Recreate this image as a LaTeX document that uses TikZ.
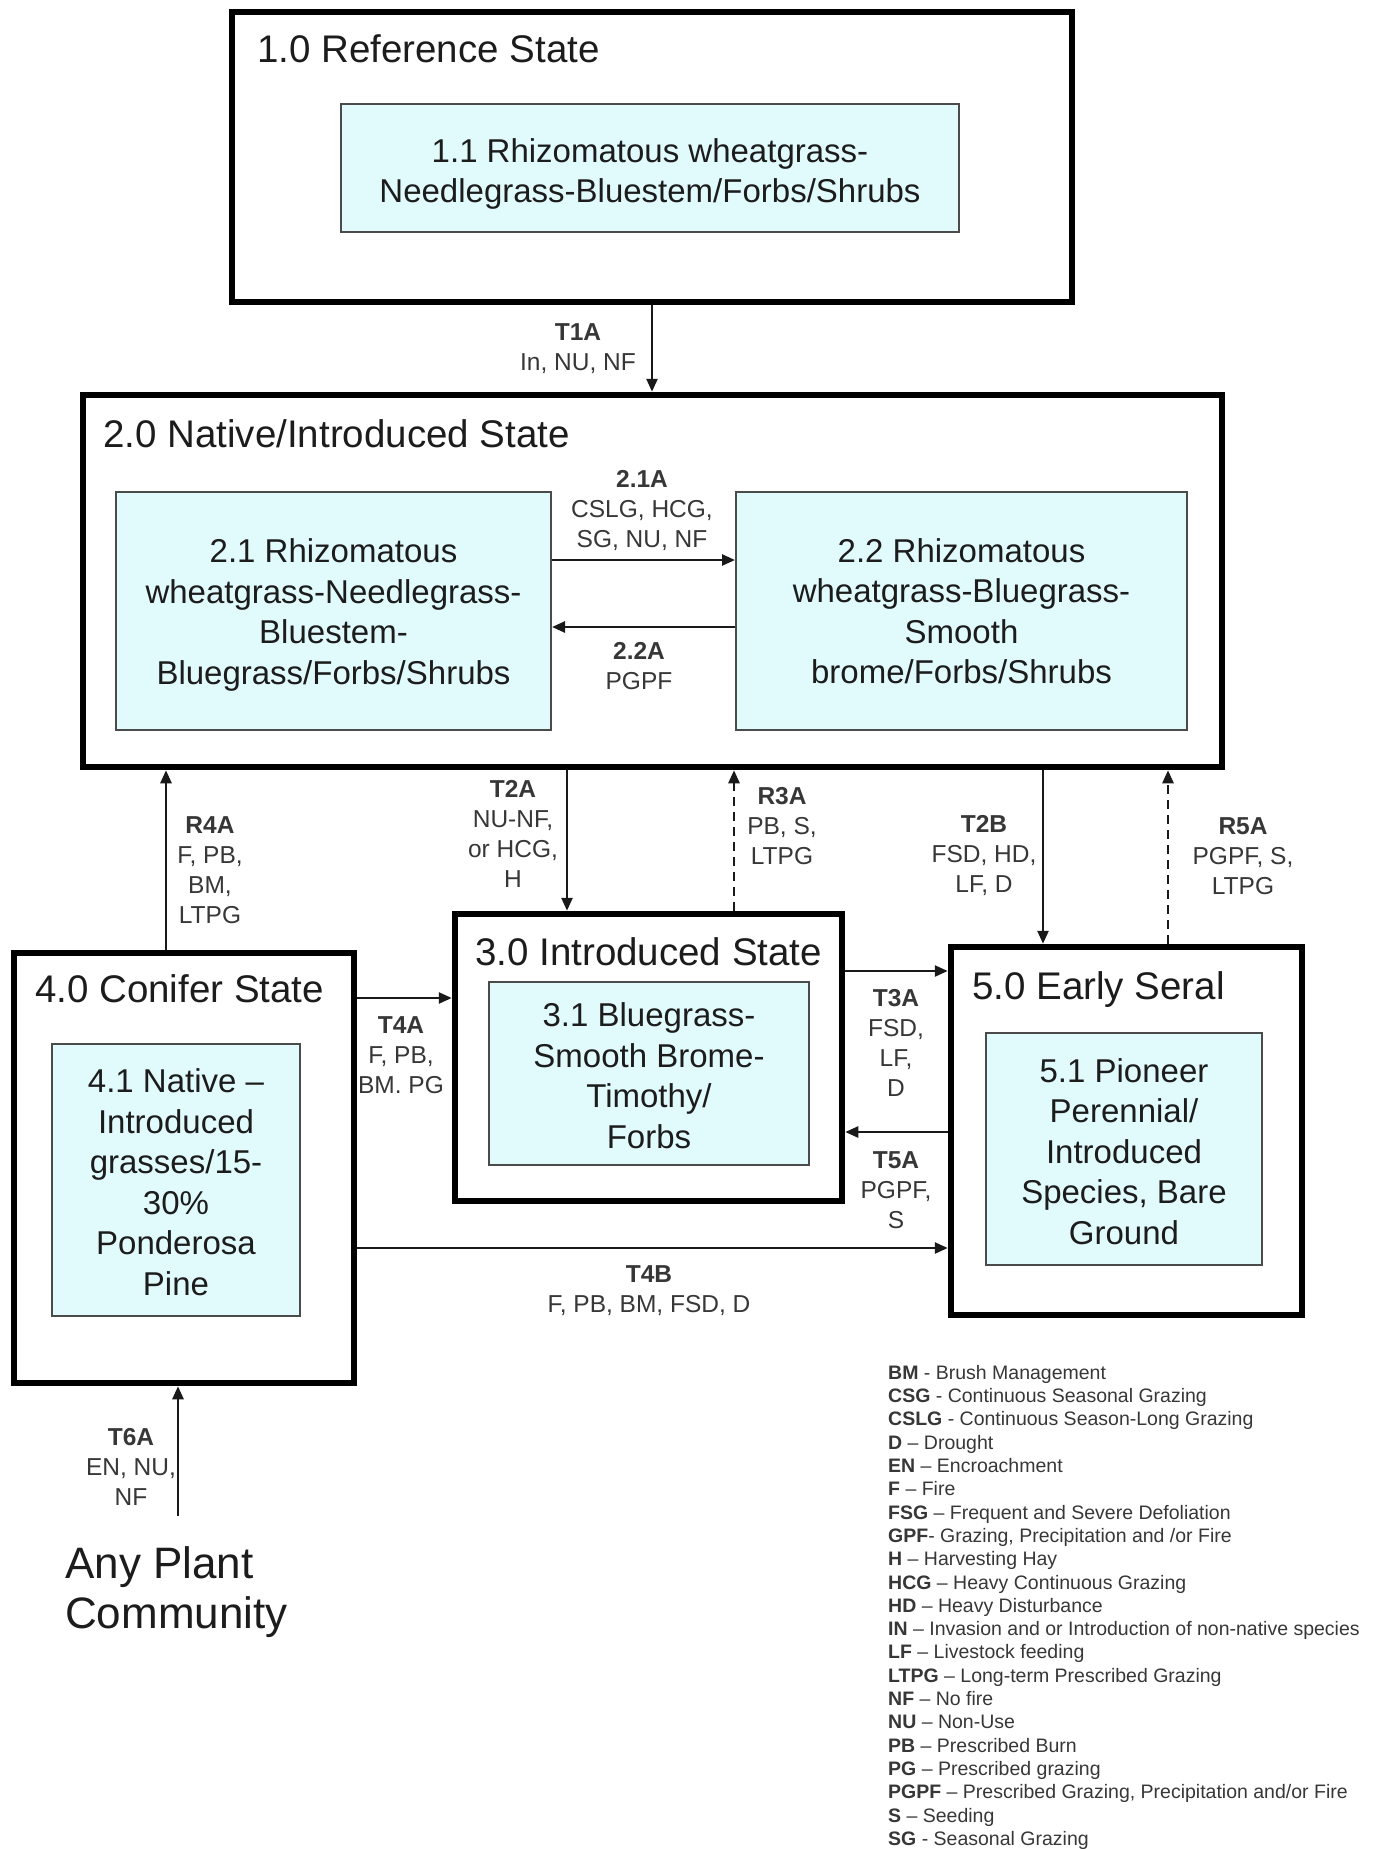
\documentclass[tikz,border=0pt]{standalone}
\usepackage{fontspec}
\setmainfont{Liberation Sans}
\usetikzlibrary{arrows.meta}
\definecolor{innerfill}{RGB}{225,250,252}
\definecolor{innerline}{RGB}{75,75,75}
\definecolor{txt}{RGB}{28,28,28}
\definecolor{lbl}{RGB}{55,55,55}
\newcommand{\myTitleFont}{\fontsize{38.5}{46}\selectfont}
\newcommand{\myBoxFont}{\fontsize{33}{40.5}\selectfont}
\newcommand{\myLblFont}{\fontsize{24.5}{30}\selectfont}
\newcommand{\myLegFont}{\fontsize{19.5}{23.3}\selectfont}
\newcommand{\myBigFont}{\fontsize{44}{50}\selectfont}
\begin{document}
\begin{tikzpicture}[x=1pt,y=-1pt,
  statebox/.style={draw=black, line width=6.5pt, fill=white, inner sep=0pt},
  innerbox/.style={draw=innerline, line width=2pt, fill=innerfill, align=center, text=txt, font=\myBoxFont, inner sep=0pt},
  statetitle/.style={anchor=base west, inner sep=0pt, text=txt, font=\myTitleFont},
  lbl/.style={align=center, inner sep=0pt, text=lbl, font=\myLblFont},
  arr/.style={line width=2.5pt, draw=black!90, -{Triangle[length=13pt,width=11pt]}},
  dasharr/.style={arr, dash pattern=on 9pt off 6pt}
]
\useasboundingbox[fill=white] (0,0) rectangle (1374,1849);

% state boxes
\node[statebox, minimum width=840pt, minimum height=290pt] (b1) at (652,157) {};
\node[statebox, minimum width=1139pt, minimum height=372pt] (b2) at (652.5,581) {};
\node[statebox, minimum width=387pt, minimum height=287pt] (b3) at (648.5,1057.5) {};
\node[statebox, minimum width=340pt, minimum height=430pt] (b4) at (184,1168) {};
\node[statebox, minimum width=351pt, minimum height=368pt] (b5) at (1126.5,1131) {};

% titles
\node[statetitle] (t1) at (257,63) {1.0 Reference State};
\node[statetitle] (t2) at (103,447) {2.0 Native/Introduced State};
\node[statetitle] (t3) at (475,965) {3.0 Introduced State};
\node[statetitle] (t4) at (35,1002) {4.0 Conifer State};
\node[statetitle] (t5) at (972,999) {5.0 Early Seral};

% community boxes
\node[innerbox, minimum width=618pt, minimum height=128pt] (b11) at (650,168)
  {\rule{0pt}{36pt}1.1 Rhizomatous wheatgrass-\\Needlegrass-Bluestem/Forbs/Shrubs};
\node[innerbox, minimum width=435pt, minimum height=238pt] (b21) at (333.5,611)
  {\rule{0pt}{32pt}2.1 Rhizomatous\\wheatgrass-Needlegrass-\\Bluestem-\\Bluegrass/Forbs/Shrubs};
\node[innerbox, minimum width=451pt, minimum height=238pt] (b22) at (961.5,611)
  {2.2 Rhizomatous\\wheatgrass-Bluegrass-\\Smooth\\brome/Forbs/Shrubs};
\node[innerbox, minimum width=320pt, minimum height=183pt] (b31) at (649,1073.5)
  {\rule{0pt}{28pt}3.1 Bluegrass-\\Smooth Brome-\\Timothy/\\Forbs};
\node[innerbox, minimum width=248pt, minimum height=272pt] (b41) at (176,1180)
  {\rule{0pt}{28pt}4.1 Native --\\Introduced\\grasses/15-\\30\%\\Ponderosa\\Pine};
\node[innerbox, minimum width=276pt, minimum height=232pt] (b51) at (1124,1149)
  {\rule{0pt}{29pt}5.1 Pioneer\\Perennial/\\Introduced\\Species, Bare\\Ground};

% connectors
\draw[arr] (b1.south -| 652,0) -- (b2.north -| 652,0);
\draw[arr] (b21.east |- 0,560) -- (b22.west |- 0,560);
\draw[arr] (b22.west |- 0,627) -- (b21.east |- 0,627);
\draw[arr] (b2.south -| 567,0) -- (b3.north -| 567,0);
\draw[dasharr] (b3.north -| 734,0) -- (b2.south -| 734,0);
\draw[arr] (b2.south -| 1043,0) -- (b5.north -| 1043,0);
\draw[dasharr] (b5.north -| 1168,0) -- (b2.south -| 1168,0);
\draw[arr] (b4.north -| 166,0) -- (b2.south -| 166,0);
\draw[arr] (b4.east |- 0,998) -- (b3.west |- 0,998);
\draw[arr] (b4.east |- 0,1248) -- (b5.west |- 0,1248);
\draw[arr] (b3.east |- 0,971) -- (b5.west |- 0,971);
\draw[arr] (b5.west |- 0,1132) -- (b3.east |- 0,1132);
\coordinate (t6start) at (178,1516);
\draw[arr] (t6start) -- (b4.south -| t6start);

% connector labels
\node[lbl] (l1) at (578,348.5) {\textbf{T1A}\\In, NU, NF};
\node[lbl] (l21) at (642,511) {\textbf{2.1A}\\CSLG, HCG,\\SG, NU, NF};
\node[lbl] (l22) at (639,666) {\textbf{2.2A}\\PGPF};
\node[lbl] (lt2a) at (513,834) {\textbf{T2A}\\NU-NF,\\or HCG,\\H};
\node[lbl] (lr3a) at (782,826) {\textbf{R3A}\\PB, S,\\LTPG};
\node[lbl] (lt2b) at (984,856) {\textbf{T2B}\\FSD, HD,\\LF, D};
\node[lbl] (lr5a) at (1243,856) {\textbf{R5A}\\PGPF, S,\\LTPG};
\node[lbl] (lr4a) at (210,870) {\textbf{R4A}\\F, PB,\\BM,\\LTPG};
\node[lbl] (lt4a) at (401,1055) {\textbf{T4A}\\F, PB,\\BM. PG};
\node[lbl] (lt4b) at (649,1291) {\textbf{T4B}\\F, PB, BM, FSD, D};
\node[lbl] (lt3a) at (896,1043) {\textbf{T3A}\\FSD,\\LF,\\D};
\node[lbl] (lt5a) at (896,1190) {\textbf{T5A}\\PGPF,\\S};
\node[lbl] (lt6a) at (131,1467) {\textbf{T6A}\\EN, NU,\\NF};

% any plant community
\node[anchor=west, align=left, inner sep=0pt, text=txt, font=\myBigFont] (apc) at (65,1592) {Any Plant\\Community};

% legend
\node[anchor=north west, align=left, inner sep=0pt, text=lbl, font=\myLegFont] (leg) at (888,1365) {%
\textbf{BM} - Brush Management\\
\textbf{CSG} - Continuous Seasonal Grazing\\
\textbf{CSLG} - Continuous Season-Long Grazing\\
\textbf{D} -- Drought\\
\textbf{EN} -- Encroachment\\
\textbf{F} -- Fire\\
\textbf{FSG} -- Frequent and Severe Defoliation\\
\textbf{GPF}- Grazing, Precipitation and /or Fire\\
\textbf{H} -- Harvesting Hay\\
\textbf{HCG} -- Heavy Continuous Grazing\\
\textbf{HD} -- Heavy Disturbance\\
\textbf{IN} -- Invasion and or Introduction of non-native species\\
\textbf{LF} -- Livestock feeding\\
\textbf{LTPG} -- Long-term Prescribed Grazing\\
\textbf{NF} -- No fire\\
\textbf{NU} -- Non-Use\\
\textbf{PB} -- Prescribed Burn\\
\textbf{PG} -- Prescribed grazing\\
\textbf{PGPF} -- Prescribed Grazing, Precipitation and/or Fire\\
\textbf{S} -- Seeding\\
\textbf{SG} - Seasonal Grazing};
\end{tikzpicture}
\end{document}
